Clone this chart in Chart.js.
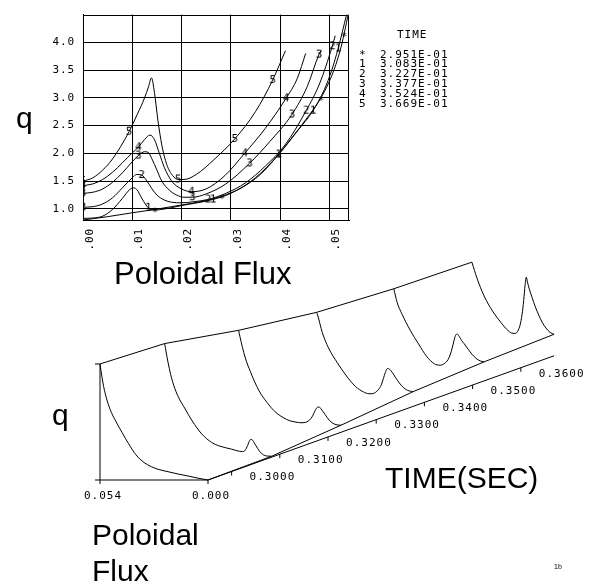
<!DOCTYPE html>
<html>
<head>
<meta charset="utf-8">
<title>q profiles</title>
<script src="https://cdn.jsdelivr.net/npm/chart.js@4.4.1/dist/chart.umd.min.js"></script>
<style>
  html, body { margin: 0; padding: 0; background: #fff; }
  body { width: 600px; height: 585px; position: relative; overflow: hidden; }
  canvas { position: absolute; left: 0; }
  .lbl { position: absolute; font-family: "Liberation Sans", Arial, sans-serif; font-size: 30px; line-height: 30px; color: #000; white-space: nowrap; }
  .tiny { position: absolute; font-family: "Liberation Sans", Arial, sans-serif; font-size: 7px; line-height: 7px; color: #000; }
</style>
</head>
<body>
<canvas id="qChart" width="600" height="260" style="top:0"></canvas>
<canvas id="wfChart" width="600" height="335" style="top:250px"></canvas>
<div class="lbl" style="left:16px;top:103px">q</div>
<div class="lbl" style="left:114px;top:259px;font-size:31px">Poloidal Flux</div>
<div class="lbl" style="left:52px;top:400px">q</div>
<div class="lbl" style="left:385px;top:463px">TIME(SEC)</div>
<div class="lbl" style="left:92px;top:520px">Poloidal</div>
<div class="lbl" style="left:92px;top:556px">Flux</div>
<div class="tiny" style="left:554px;top:563px">1b</div>
<script>
// time slices (s) and the symbol used for each one
const TIMES = [0.2951, 0.3083, 0.3227, 0.3377, 0.3524, 0.3669];
const SYMBOLS = ['*', '1', '2', '3', '4', '5'];

// q against poloidal flux, one pair of arrays per time slice
// marksN = indexes of the points that carry the symbol
const flux0 = [0, 0.005, 0.010, 0.0146, 0.020, 0.025, 0.0282, 0.032, 0.036, 0.0397, 0.043, 0.046, 0.0483, 0.0505, 0.0522, 0.053, 0.054];
const q0    = [0.80, 0.86, 0.93, 0.99, 1.07, 1.15, 1.23, 1.37, 1.62, 1.98, 2.35, 2.70, 3.00, 3.40, 3.85, 4.15, 4.58];
const marks0 = [3, 6, 9, 12, 15];

const flux1 = [0, 0.002, 0.004, 0.006, 0.008, 0.0095, 0.0103, 0.011, 0.012, 0.01325, 0.0145, 0.016, 0.020, 0.0264, 0.030, 0.035, 0.0397, 0.0435, 0.0467, 0.049, 0.0505, 0.0518, 0.0535];
const q1    = [0.83, 0.835, 0.87, 0.99, 1.19, 1.35, 1.38, 1.34, 1.18, 1.02, 0.98, 0.99, 1.06, 1.17, 1.28, 1.56, 1.98, 2.40, 2.77, 3.15, 3.50, 3.89, 4.50];
const marks1 = [0, 9, 13, 16, 18, 21];

const flux2 = [0, 0.002, 0.004, 0.006, 0.008, 0.010, 0.0109, 0.0119, 0.013, 0.014, 0.015, 0.0165, 0.018, 0.020, 0.0225, 0.0254, 0.029, 0.033, 0.037, 0.041, 0.0453, 0.048, 0.0506, 0.0512];
const q2    = [1.03, 1.04, 1.09, 1.20, 1.38, 1.56, 1.62, 1.61, 1.50, 1.36, 1.25, 1.16, 1.12, 1.11, 1.13, 1.17, 1.28, 1.47, 1.77, 2.15, 2.77, 3.25, 3.93, 4.12];
const marks2 = [0, 7, 15, 20, 22];

const flux3 = [0, 0.002, 0.004, 0.006, 0.008, 0.010, 0.01123, 0.0125, 0.0132, 0.014, 0.015, 0.016, 0.0175, 0.019, 0.0205, 0.0222, 0.025, 0.029, 0.0338, 0.038, 0.0424, 0.0455, 0.0479, 0.0484];
const q3    = [1.28, 1.30, 1.36, 1.48, 1.65, 1.85, 1.96, 2.03, 2.02, 1.90, 1.70, 1.50, 1.34, 1.25, 1.21, 1.21, 1.27, 1.45, 1.82, 2.22, 2.70, 3.20, 3.78, 3.86];
const marks3 = [0, 6, 15, 18, 20, 22];

const flux4 = [0, 0.002, 0.004, 0.006, 0.008, 0.010, 0.01123, 0.0125, 0.0136, 0.0145, 0.0155, 0.0165, 0.018, 0.020, 0.022, 0.025, 0.0288, 0.0328, 0.037, 0.0412, 0.0435, 0.0452];
const q4    = [1.42, 1.45, 1.53, 1.66, 1.83, 2.01, 2.11, 2.25, 2.33, 2.25, 2.00, 1.75, 1.50, 1.36, 1.31, 1.36, 1.60, 2.00, 2.45, 2.99, 3.35, 3.80];
const marks4 = [0, 6, 14, 17, 19];

const flux5 = [0, 0.002, 0.004, 0.006, 0.00935, 0.011, 0.0125, 0.0133, 0.0139, 0.0145, 0.0152, 0.016, 0.017, 0.0182, 0.0193, 0.0205, 0.023, 0.0265, 0.0308, 0.035, 0.0385, 0.0411];
const q5    = [1.50, 1.56, 1.70, 1.90, 2.39, 2.70, 3.00, 3.20, 3.36, 3.10, 2.60, 2.15, 1.80, 1.60, 1.53, 1.53, 1.62, 1.88, 2.26, 2.75, 3.32, 3.85];
const marks5 = [0, 4, 14, 18, 20];

// axes
const FLUX_MAX = 0.054;
const Q_MIN = 0.8, Q_MAX = 4.5;
const X_TICKS = [0, 0.01, 0.02, 0.03, 0.04, 0.05];
const Y_TICKS = [1.0, 1.5, 2.0, 2.5, 3.0, 3.5, 4.0];
const T_TICKS = [0.30, 0.31, 0.32, 0.33, 0.34, 0.35, 0.36];

const FLUX = [flux0, flux1, flux2, flux3, flux4, flux5];
const Q = [q0, q1, q2, q3, q4, q5];
const MARKS = [marks0, marks1, marks2, marks3, marks4, marks5];

const MONO = '"DejaVu Sans Mono", "Liberation Mono", monospace';

// small canvas with one character, used as point style
function glyph(ch) {
    const c = document.createElement('canvas');
    c.width = 10; c.height = 14;
    const g = c.getContext('2d');
    g.font = '11px ' + MONO;
    g.textAlign = 'center';
    g.textBaseline = 'middle';
    g.fillStyle = '#000';
    g.fillText(ch, 5, ch === '*' ? 10 : 7);
    return c;
}

function fmtE(v) {
    const parts = v.toExponential(3).split('e');
    const e = parseInt(parts[1], 10);
    return parts[0] + 'E' + (e < 0 ? '-' : '+') + String(Math.abs(e)).padStart(2, '0');
}

const lineStyle = { showLine: true, borderColor: '#000', borderWidth: 1, pointRadius: 0, cubicInterpolationMode: 'monotone' };

// the plotter font is wide and short: small mono with extra spacing
const spacing = {
    id: 'spacing',
    beforeDraw(chart) { chart.ctx.letterSpacing = '0.9px'; }
};

// ---------- top: q vs poloidal flux ----------
const profileSets = TIMES.map((t, i) => Object.assign({
    data: FLUX[i].map((f, k) => ({ x: f, y: Q[i][k] }))
}, lineStyle));

const markSets = TIMES.map((t, i) => ({
    data: MARKS[i].map(k => ({ x: FLUX[i][k], y: Q[i][k] })),
    showLine: false,
    pointStyle: glyph(SYMBOLS[i]),
    pointRadius: 5
}));

const framePlugin = {
    id: 'frame',
    afterDraw(chart) {
        const a = chart.chartArea, ctx = chart.ctx;
        ctx.save();
        ctx.strokeStyle = '#000';
        ctx.lineWidth = 1;
        ctx.beginPath();
        ctx.moveTo(Math.round(a.left) + 0.5, Math.round(a.top) + 0.5);
        ctx.lineTo(Math.round(a.right) - 0.5, Math.round(a.top) + 0.5);
        ctx.lineTo(Math.round(a.right) - 0.5, Math.round(a.bottom) + 0.5);
        ctx.stroke();

        // time legend
        ctx.font = '11px ' + MONO;
        ctx.letterSpacing = '1px';
        ctx.fillStyle = '#000';
        ctx.textAlign = 'left';
        ctx.textBaseline = 'alphabetic';
        ctx.fillText('TIME', 397, 38);
        TIMES.forEach((t, i) => {
            const y = 57.5 + i * 9.8;
            ctx.fillText(SYMBOLS[i], 359, y);
            ctx.fillText(fmtE(t), 380, y);
        });
        ctx.restore();
    }
};

new Chart(document.getElementById('qChart'), {
    type: 'scatter',
    data: { datasets: [...profileSets, ...markSets] },
    options: {
        responsive: false,
        animation: false,
        devicePixelRatio: 1,
        events: [],
        layout: { padding: { left: 0, right: 251, top: 8, bottom: 0 } },
        plugins: { legend: { display: false }, tooltip: { enabled: false } },
        scales: {
            x: {
                type: 'linear', min: 0, max: FLUX_MAX,
                afterBuildTicks: s => { s.ticks = X_TICKS.map(v => ({ value: v })); },
                afterFit: s => { s.height = 40; },
                grid: { color: '#000', lineWidth: 1, drawTicks: false },
                border: { color: '#000', width: 1 },
                ticks: {
                    autoSkip: false, minRotation: 90, maxRotation: 90, padding: 8, labelOffset: 7,
                    color: '#000', font: { family: MONO, size: 11 },
                    callback: v => v.toFixed(2).slice(1)
                }
            },
            y: {
                type: 'linear', min: Q_MIN, max: Q_MAX,
                afterBuildTicks: s => { s.ticks = Y_TICKS.map(v => ({ value: v })); },
                afterFit: s => { s.width = 83; },
                grid: { color: '#000', lineWidth: 1, drawTicks: false },
                border: { color: '#000', width: 1 },
                ticks: {
                    padding: 8, color: '#000', font: { family: MONO, size: 11 },
                    callback: v => v.toFixed(1)
                }
            }
        }
    },
    plugins: [spacing, framePlugin]
});

// ---------- bottom: waterfall of the same profiles over time ----------
const T0 = TIMES[0], T_END = TIMES[TIMES.length - 1];
const allQ = Q.flat();
const QB = Math.min(...allQ), QT = Math.max(...allQ);

// oblique view: pixels per unit of flux, q and time
const VIEW = { fluxPx: 2000, qPx: 30.7, tDx: 4820, tDy: 1730 };

function proj(f, q, t) {
    return {
        x: (FLUX_MAX - f) + (t - T0) * VIEW.tDx / VIEW.fluxPx,
        y: (q - QB) + (t - T0) * VIEW.tDy / VIEW.qPx
    };
}

const wfCurves = TIMES.map((t, i) => Object.assign({
    data: FLUX[i].map((f, k) => proj(f, Q[i][k], t))
}, lineStyle));

const last = a => a[a.length - 1];
const straight = { cubicInterpolationMode: 'default', tension: 0 };
const edgeRidge = Object.assign({}, lineStyle, straight, {
    data: TIMES.map((t, i) => proj(last(FLUX[i]), last(Q[i]), t))
});
const axisRidge = Object.assign({}, lineStyle, straight, {
    data: TIMES.map((t, i) => proj(FLUX[i][0], Q[i][0], t))
});
const axisLines = [
    [proj(FLUX_MAX, QB, T0), proj(FLUX_MAX, QT, T0)],
    [proj(FLUX_MAX, QB, T0), proj(0, QB, T0)],
    [proj(0, QB, T0), proj(0, QB, T_END)]
].map(d => Object.assign({}, lineStyle, straight, { data: d }));

const wfAxesPlugin = {
    id: 'wfAxes',
    afterDatasetsDraw(chart) {
        const sx = chart.scales.x, sy = chart.scales.y, ctx = chart.ctx;
        const px = p => [sx.getPixelForValue(p.x), sy.getPixelForValue(p.y)];
        ctx.save();
        ctx.strokeStyle = '#000';
        ctx.fillStyle = '#000';
        ctx.lineWidth = 1;
        const tick = (x, y, dx, dy) => {
            ctx.beginPath();
            ctx.moveTo(x, y);
            ctx.lineTo(x + dx, y + dy);
            ctx.stroke();
        };
        // q axis end ticks
        let [x, y] = px(proj(FLUX_MAX, QT, T0));
        tick(x, y, -5, 0);
        [x, y] = px(proj(FLUX_MAX, QB, T0));
        tick(x, y, -5, 0);

        ctx.font = '11px ' + MONO;
        ctx.letterSpacing = '1px';
        ctx.textBaseline = 'middle';
        // flux axis ticks and labels
        ctx.textAlign = 'center';
        [FLUX_MAX, 0].forEach(f => {
            const [fx, fy] = px(proj(f, QB, T0));
            tick(fx, fy, 0, 4);
            ctx.fillText(f.toFixed(3), fx + 3, fy + 16);
        });
        // time axis ticks and labels
        ctx.textAlign = 'left';
        T_TICKS.forEach(t => {
            const [tx, ty] = px(proj(0, QB, t));
            tick(tx, ty, 0, 4);
            ctx.fillText(t.toFixed(4), tx + 18, ty + 6);
        });
        ctx.restore();
    }
};

new Chart(document.getElementById('wfChart'), {
    type: 'scatter',
    data: { datasets: [...wfCurves, edgeRidge, axisRidge, ...axisLines] },
    options: {
        responsive: false,
        animation: false,
        devicePixelRatio: 1,
        events: [],
        layout: { padding: 0 },
        plugins: { legend: { display: false }, tooltip: { enabled: false } },
        scales: {
            x: { type: 'linear', display: false, min: -100 / VIEW.fluxPx, max: 500 / VIEW.fluxPx },
            y: { type: 'linear', display: false, min: -105 / VIEW.qPx, max: 230 / VIEW.qPx }
        }
    },
    plugins: [wfAxesPlugin]
});
</script>
</body>
</html>
